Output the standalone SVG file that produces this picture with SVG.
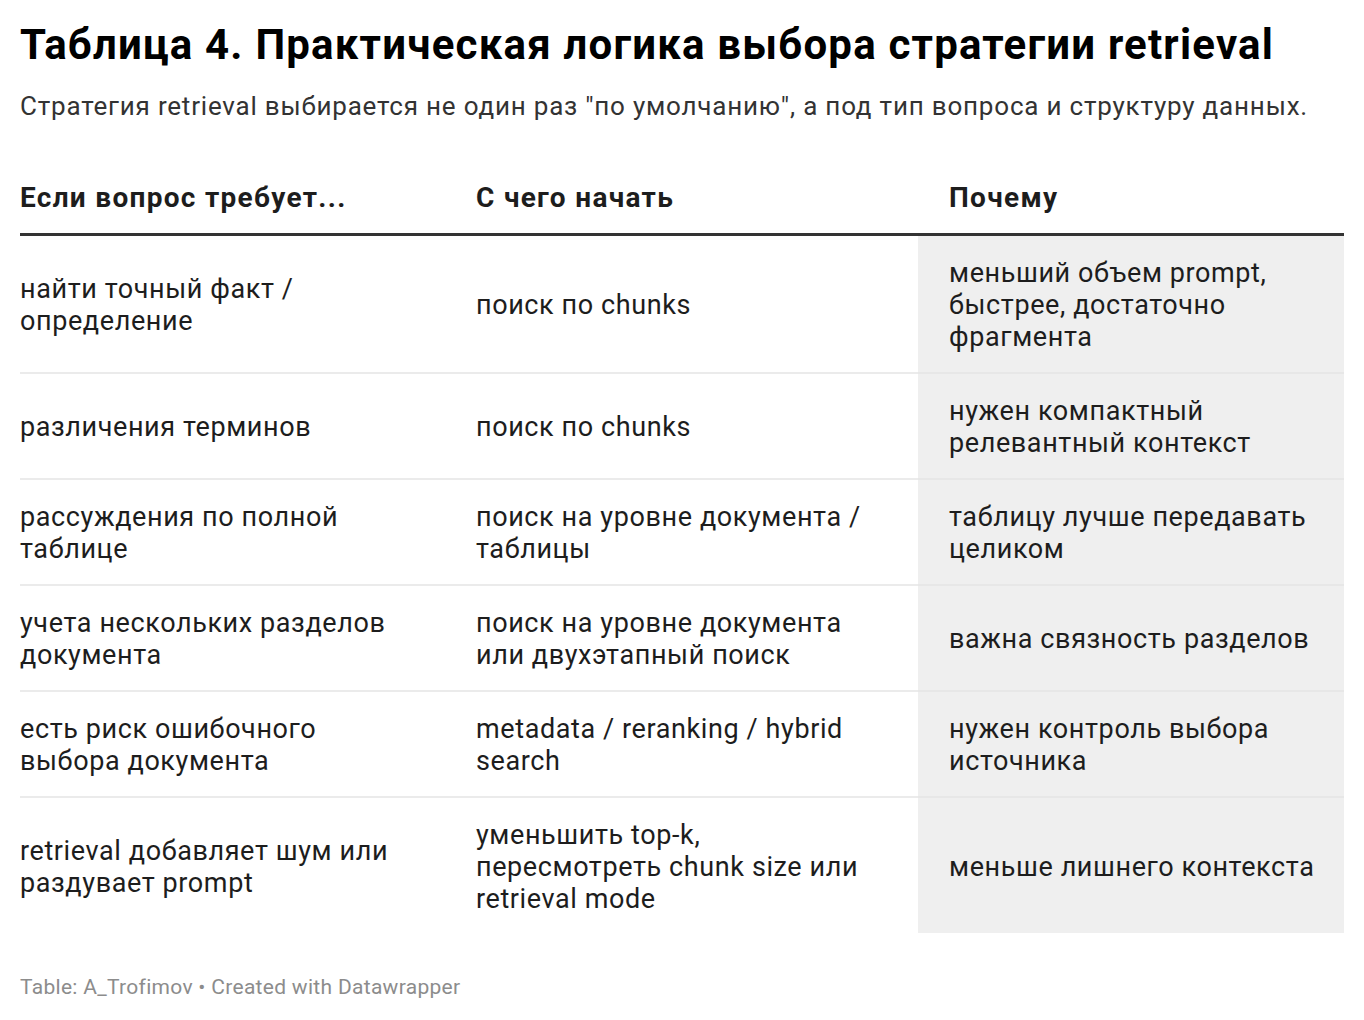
<svg xmlns="http://www.w3.org/2000/svg" width="1364" height="1020" viewBox="0 0 1364 1020">
<style>
text{font-family:Roboto,"Liberation Sans",sans-serif;fill:#1d1d1d}
.t{font-size:42px;font-weight:700;fill:#000;letter-spacing:1.2px}
.s{font-size:26px;fill:#333;letter-spacing:0.8px}
.h{font-size:28px;font-weight:700;letter-spacing:1.3px}
.c{font-size:27px;letter-spacing:0.6px}
.f{font-size:21px;fill:#8c8c8c;letter-spacing:0.3px}
.sep{stroke:#e5e5e5;stroke-width:1.5}
</style>
<rect width="1364" height="1020" fill="#fff"/>
<text class="t" x="20" y="59">Таблица 4. Практическая логика выбора стратегии retrieval</text>
<text class="s" x="20" y="115">Стратегия retrieval выбирается не один раз "по умолчанию", а под тип вопроса и структуру данных.</text>
<g id="header">
<text class="h" x="20" y="207">Если вопрос требует...</text>
<text class="h" x="476" y="207">С чего начать</text>
<text class="h" x="949" y="207">Почему</text>
</g>
<rect x="918" y="235" width="426" height="698" fill="#efefef"/>
<line x1="20" y1="234.5" x2="1344" y2="234.5" stroke="#333" stroke-width="3"/>
<g id="separators">
<line class="sep" x1="20" y1="373" x2="1344" y2="373"/>
<line class="sep" x1="20" y1="479" x2="1344" y2="479"/>
<line class="sep" x1="20" y1="585" x2="1344" y2="585"/>
<line class="sep" x1="20" y1="691" x2="1344" y2="691"/>
<line class="sep" x1="20" y1="797" x2="1344" y2="797"/>
</g>
<g id="row1">
<text class="c" x="20" y="298">найти точный факт /</text>
<text class="c" x="20" y="330">определение</text>
<text class="c" x="476" y="314">поиск по chunks</text>
<text class="c" x="949" y="282">меньший объем prompt,</text>
<text class="c" x="949" y="314">быстрее, достаточно</text>
<text class="c" x="949" y="346">фрагмента</text>
</g>
<g id="row2">
<text class="c" x="20" y="436">различения терминов</text>
<text class="c" x="476" y="436">поиск по chunks</text>
<text class="c" x="949" y="420">нужен компактный</text>
<text class="c" x="949" y="452">релевантный контекст</text>
</g>
<g id="row3">
<text class="c" x="20" y="526">рассуждения по полной</text>
<text class="c" x="20" y="558">таблице</text>
<text class="c" x="476" y="526">поиск на уровне документа /</text>
<text class="c" x="476" y="558">таблицы</text>
<text class="c" x="949" y="526">таблицу лучше передавать</text>
<text class="c" x="949" y="558">целиком</text>
</g>
<g id="row4">
<text class="c" x="20" y="632">учета нескольких разделов</text>
<text class="c" x="20" y="664">документа</text>
<text class="c" x="476" y="632">поиск на уровне документа</text>
<text class="c" x="476" y="664">или двухэтапный поиск</text>
<text class="c" x="949" y="648">важна связность разделов</text>
</g>
<g id="row5">
<text class="c" x="20" y="738">есть риск ошибочного</text>
<text class="c" x="20" y="770">выбора документа</text>
<text class="c" x="476" y="738">metadata / reranking / hybrid</text>
<text class="c" x="476" y="770">search</text>
<text class="c" x="949" y="738">нужен контроль выбора</text>
<text class="c" x="949" y="770">источника</text>
</g>
<g id="row6">
<text class="c" x="20" y="860">retrieval добавляет шум или</text>
<text class="c" x="20" y="892">раздувает prompt</text>
<text class="c" x="476" y="844">уменьшить top-k,</text>
<text class="c" x="476" y="876">пересмотреть chunk size или</text>
<text class="c" x="476" y="908">retrieval mode</text>
<text class="c" x="949" y="876">меньше лишнего контекста</text>
</g>
<text class="f" x="20" y="994">Table: A_Trofimov • Created with Datawrapper</text>
</svg>
